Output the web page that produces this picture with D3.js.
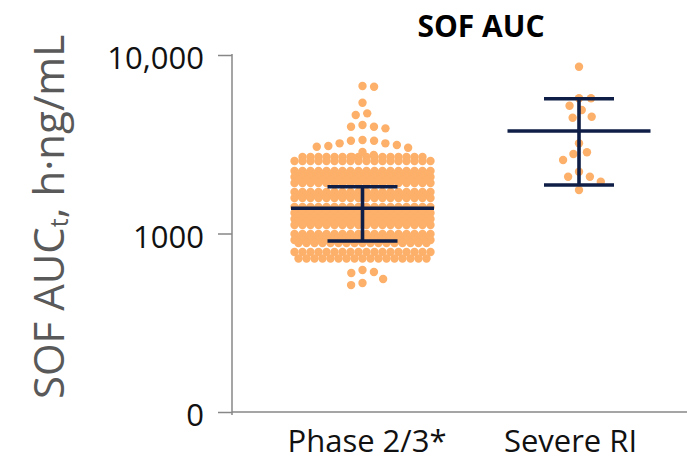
<!DOCTYPE html>
<html>
<head>
<meta charset="utf-8">
<script src="https://cdn.jsdelivr.net/npm/d3@7"></script>
<style>
  body { margin: 0; background: #fff; }
  svg { display: block; font-family: "Open Sans", sans-serif; }
</style>
</head>
<body>
<div id="chart"></div>
<script>
// groups and summary lines (geometric mean with 90% CI)
const groups = ["Phase 2/3*", "Severe RI"];
const means = [1384, 3752];
const lowers = [908, 1870];
const uppers = [1829, 5692];

// Phase 2/3: dense rows of points (value, number of points in the row)
const phaseRowValues = [2683, 2548, 2240, 2154, 2073, 1994, 1918, 1708, 1643, 1581,
  1408, 1354, 1303, 1253, 1206, 1160, 1116, 994, 956, 920, 885, 788, 724];
const phaseRowCounts = [16, 18, 18, 17, 18, 17, 18, 18, 17, 18,
  18, 17, 18, 17, 18, 17, 18, 18, 17, 18, 17, 18, 17];
// Phase 2/3: single points outside the dense part
const phaseSingles = [6700, 6640, 5400, 4710, 4610, 4055, 3965, 3965, 3882,
  3340, 3311, 3311, 3200, 3200, 3133, 3090, 3063, 3025,
  2863, 2754, 2685, 625, 609, 601, 556, 528, 514];
// Severe RI points
const severeValues = [8600, 5720, 5720, 5200, 4920, 4510, 4450, 3200, 2850, 2790, 2580, 2220, 2080, 2080, 1950, 1750];

const tickVals = [100, 1000, 10000];
const tickLabels = ["0", "1000", "10,000"];

const width = 687, height = 464;
const svg = d3.select('#chart').append('svg')
    .attr('width', width)
    .attr('height', height);

const y = d3.scaleLog()
  .domain([100, 10000])
  .range([412, 55]);

const x = d3.scalePoint()
  .domain(groups)
  .range([362.5, 579]);

const dotColor = '#fcb06a';
const barColor = '#0f1e46';
const axisColor = '#878787';
const r = 4.2;

// simple beeswarm: put each point as close to the centre as it can go
function swarm(values, cx, d) {
  const placed = [];
  values.slice().sort((a, b) => b - a).forEach(v => {
    const py = y(v);
    const near = placed.filter(p => Math.abs(p.y - py) < d);
    const cands = [0];
    near.forEach(p => {
      const dx = Math.sqrt(d * d - (p.y - py) ** 2);
      cands.push(p.dx + dx, p.dx - dx);
    });
    cands.sort((a, b) => Math.abs(a) - Math.abs(b));
    const ok = cands.find(c => near.every(p => (p.dx - c) ** 2 + (p.y - py) ** 2 >= d * d - 0.01));
    placed.push({dx: ok, y: py});
  });
  return placed.map(p => ({x: cx + p.dx, y: p.y}));
}

// rows of the dense part, fixed step so 17/18 rows interleave
const step = 8;
const rowPts = [];
phaseRowValues.forEach((v, i) => {
  const n = phaseRowCounts[i];
  const x0 = x(groups[0]) - (n - 1) * step / 2;
  for (let k = 0; k < n; k++) {
    rowPts.push({x: x0 + k * step, y: y(v)});
  }
});

const allPts = rowPts
  .concat(swarm(phaseSingles, x(groups[0]), 11.6))
  .concat(swarm(severeValues, x(groups[1]), 12));

svg.append('g').selectAll('circle')
  .data(allPts)
  .enter().append('circle')
    .attr('cx', d => d.x)
    .attr('cy', d => d.y)
    .attr('r', r)
    .attr('fill', dotColor);

// mean and CI bars
const bars = svg.append('g')
  .attr('stroke', barColor)
  .attr('stroke-width', 3.6);
groups.forEach((g, i) => {
  const cx = x(g);
  bars.append('line')
    .attr('x1', cx - 71.5).attr('x2', cx + 71.5)
    .attr('y1', y(means[i])).attr('y2', y(means[i]));
  bars.append('line')
    .attr('x1', cx).attr('x2', cx)
    .attr('y1', y(uppers[i])).attr('y2', y(lowers[i]));
  [uppers[i], lowers[i]].forEach(v => {
    bars.append('line')
      .attr('x1', cx - 35).attr('x2', cx + 35)
      .attr('y1', y(v)).attr('y2', y(v));
  });
});

// y axis
const yAxis = d3.axisLeft(y)
  .tickValues(tickVals)
  .tickFormat((d, i) => tickLabels[i])
  .tickSize(14)
  .tickSizeOuter(0)
  .tickPadding(14);
const yAxisGroup = svg.append('g')
  .attr('transform', 'translate(232,0)')
  .call(yAxis);
yAxisGroup.select('.domain').attr('stroke', axisColor).attr('stroke-width', 1.5)
  .attr('d', 'M0,54V415');
yAxisGroup.selectAll('.tick line').attr('stroke', axisColor).attr('stroke-width', 1.5);
yAxisGroup.selectAll('.tick text')
  .attr('font-size', 31)
  .attr('fill', '#111')
  .attr('font-family', '"Open Sans", sans-serif')
  .attr('dy', '0.45em');

// x axis
svg.append('line')
  .attr('x1', 232).attr('x2', 687)
  .attr('y1', 412).attr('y2', 412)
  .attr('stroke', axisColor).attr('stroke-width', 1.5);
const xAxisGroup = svg.append('g')
  .attr('transform', 'translate(0,412)')
  .call(d3.axisBottom(x).tickSize(0).tickPadding(0));
xAxisGroup.select('.domain').remove();
const labelShift = [4, -9];
xAxisGroup.selectAll('.tick text')
  .attr('font-size', 31)
  .attr('fill', '#111')
  .attr('font-family', '"Open Sans", sans-serif')
  .attr('dy', null)
  .attr('dx', (d, i) => labelShift[i])
  .attr('y', 40);

// title
svg.append('text')
  .attr('x', 481)
  .attr('y', 37)
  .attr('text-anchor', 'middle')
  .attr('font-size', 30)
  .attr('font-weight', 'bold')
  .attr('fill', '#000')
  .text('SOF AUC');

// y axis title
const yt = svg.append('text')
  .attr('transform', 'translate(64,217) rotate(-90)')
  .attr('text-anchor', 'middle')
  .attr('font-size', 42)
  .attr('fill', '#595959');
yt.append('tspan').text('SOF AUC');
yt.append('tspan').attr('font-size', 25).attr('dy', 4).text('t');
yt.append('tspan').attr('dy', -4).text(', h·ng/mL');
</script>
</body>
</html>
